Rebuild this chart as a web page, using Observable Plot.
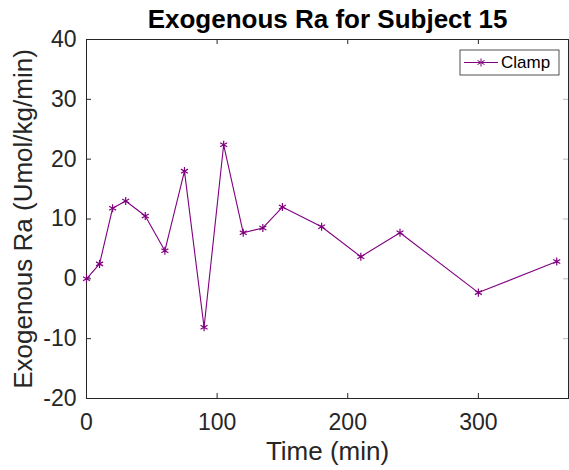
<!DOCTYPE html>
<html>
<head>
<meta charset="utf-8">
<script src="https://cdn.jsdelivr.net/npm/d3@7"></script>
<script src="https://cdn.jsdelivr.net/npm/@observablehq/plot@0.6"></script>
<style>
  html, body { margin: 0; padding: 0; background: #fff; }
</style>
</head>
<body>
<div id="chart"></div>
<script>
const times = [0, 10, 20, 30, 45, 60, 75, 90, 105, 120, 135, 150, 180, 210, 240, 300, 360];
const clamp = [0, 2.5, 11.8, 13.0, 10.5, 4.7, 18.0, -8.1, 22.4, 7.7, 8.5, 12.0, 8.7, 3.7, 7.7, -2.3, 2.9];
const xTicks = [0, 100, 200, 300];
const yTicks = [-20, -10, 0, 10, 20, 30, 40];
const seriesName = "Clamp";
const titleText = "Exogenous Ra for Subject 15";
const xLabel = "Time (min)";
const yLabel = "Exogenous Ra (Umol/kg/min)";

const purple = "#800080";
const ink = "#262626";
const data = times.map((t, i) => ({t, v: clamp[i]}));

const W = 569, H = 470, mL = 86, mR = 1, mT = 39, mB = 72;
const fw = W - mL - mR, fh = H - mT - mB;
const tick = 5;
const markR = 3.8;

const legend = (index, scales, values, dims) => {
  const g = d3.create("svg:g");
  const right = dims.width - dims.marginRight;
  const x0 = right - 108, x1 = right - 9, y0 = dims.marginTop + 11, y1 = dims.marginTop + 36;
  const cy = (y0 + y1) / 2;
  g.append("rect").attr("x", x0).attr("y", y0).attr("width", x1 - x0).attr("height", y1 - y0)
    .attr("fill", "white").attr("stroke", ink).attr("stroke-width", 0.8);
  g.append("line").attr("x1", x0 + 4).attr("x2", x0 + 38).attr("y1", cy).attr("y2", cy)
    .attr("stroke", purple).attr("stroke-width", 1);
  g.append("path").attr("d", d3.symbol(d3.symbolAsterisk, Math.PI * markR * markR)())
    .attr("transform", `translate(${x0 + 21},${cy})`).attr("stroke", purple).attr("fill", "none");
  g.append("text").attr("x", x0 + 41).attr("y", cy).attr("dy", "0.35em")
    .attr("text-anchor", "start")
    .attr("font-size", 17).attr("fill", "black").text(seriesName);
  return g.node();
};

const fmt = d => String(d);

const chart = Plot.plot({
  width: W, height: H,
  marginLeft: mL, marginRight: mR, marginTop: mT, marginBottom: mB,
  style: {fontFamily: "'Liberation Sans', Arial, Helvetica, sans-serif", fontSize: "23px", background: "white", color: ink},
  x: {domain: [0, 369]},
  y: {domain: [-20, 40]},
  marks: [
    Plot.axisX(xTicks, {tickSize: 0, tickPadding: 15, fontSize: 23, label: null, color: ink, tickFormat: fmt}),
    Plot.axisY(yTicks, {tickSize: 0, tickPadding: 10, fontSize: 23, label: null, color: ink, tickFormat: fmt}),
    Plot.tickX(xTicks, {x: d => d, insetTop: fh - tick, stroke: ink}),
    Plot.tickX(xTicks, {x: d => d, insetBottom: fh - tick, stroke: ink}),
    Plot.tickY(yTicks, {y: d => d, insetRight: fw - tick, stroke: ink}),
    Plot.tickY(yTicks, {y: d => d, insetLeft: fw - tick, stroke: "#bbbbbb"}),
    Plot.frame({stroke: ink}),
    Plot.line(data, {x: "t", y: "v", stroke: purple, strokeWidth: 1.1}),
    Plot.dot(data, {x: "t", y: "v", symbol: "asterisk", r: markR, stroke: purple, strokeWidth: 1.2}),
    Plot.text([titleText], {frameAnchor: "top", dy: -20, lineAnchor: "middle", textAnchor: "middle", fontSize: 26, fontWeight: "bold", fill: "black"}),
    Plot.text([xLabel], {frameAnchor: "bottom", dy: 53, lineAnchor: "middle", textAnchor: "middle", fontSize: 26, fill: ink}),
    Plot.text([yLabel], {frameAnchor: "left", dx: -63, rotate: -90, lineAnchor: "middle", textAnchor: "middle", fontSize: 26, fill: ink}),
    legend
  ]
});
document.getElementById("chart").appendChild(chart);
</script>
</body>
</html>
